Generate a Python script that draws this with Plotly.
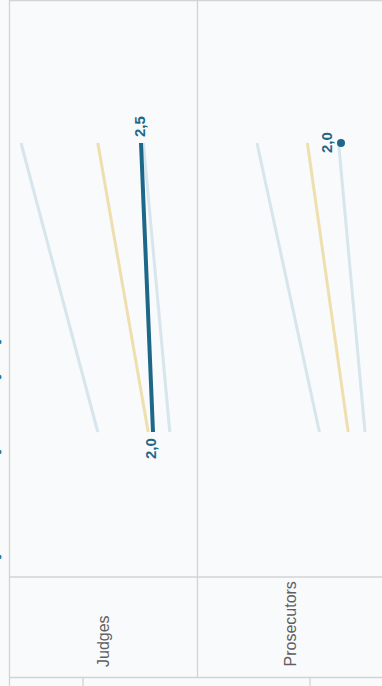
import plotly.graph_objects as go

# ---------------- data ----------------
categories = ["Judges", "Prosecutors"]
periods = [0, 1]  # first and second observation
grey_high = {"Judges": [4.3, 7.5], "Prosecutors": [2.9, 5.5]}
yellow_mid = {"Judges": [2.2, 4.3], "Prosecutors": [1.7, 3.4]}
grey_low = {"Judges": [1.3, 2.4], "Prosecutors": [1.0, 2.1]}
highlight = {"Judges": [2.0, 2.5], "Prosecutors": [None, 2.0]}
highlight_labels = {"Judges": ["2,0", "2,5"], "Prosecutors": [None, "2,0"]}

# ---------------- styling ----------------
W, H = 382, 686
BG = "#f9fafb"
BORDER = "#d3d3d3"
DARK = "#1d6788"
LIGHT = "#d7e5ec"
YELLOW = "#efdfae"
FONT = "Liberation Sans, Arial, sans-serif"

def px_x(p):
    return p / W

def px_y(p):
    return 1 - p / H

# panels in pixels
panels = [(10, 198), (198, 382)]
PX_PER_UNIT = 24.0
REF_OFFSET = 143  # pixel offset inside the panel where value 2.0 sits

def val_at(offset):
    return 2.0 + (REF_OFFSET - offset) / PX_PER_UNIT

fig = go.Figure()

for i, cat in enumerate(categories):
    xa = "x" if i == 0 else "x2"
    for series, col, wd in [(grey_high, LIGHT, 3), (yellow_mid, YELLOW, 3), (grey_low, LIGHT, 3)]:
        fig.add_trace(go.Scatter(x=series[cat], y=periods, mode="lines",
                                 line=dict(color=col, width=wd), xaxis=xa, yaxis="y",
                                 hoverinfo="skip", showlegend=False))
    hv = highlight[cat]
    pts = [(v, p) for v, p in zip(hv, periods) if v is not None]
    if len(pts) > 1:
        fig.add_trace(go.Scatter(x=[v for v, _ in pts], y=[p for _, p in pts], mode="lines",
                                 line=dict(color=DARK, width=4), xaxis=xa, yaxis="y",
                                 showlegend=False, hoverinfo="skip"))
    else:
        fig.add_trace(go.Scatter(x=[v for v, _ in pts], y=[p for _, p in pts], mode="markers",
                                 marker=dict(color=DARK, size=8), xaxis=xa, yaxis="y",
                                 showlegend=False, hoverinfo="skip"))

annotations = []
# value labels
label_shifts = {
    ("Judges", 0): (-3, -17),
    ("Judges", 1): (-2, 16),
    ("Prosecutors", 1): (-15, 0),
}
for i, cat in enumerate(categories):
    xr = "x" if i == 0 else "x2"
    for j, (v, t) in enumerate(zip(highlight[cat], highlight_labels[cat])):
        if v is None:
            continue
        dx, dy = label_shifts[(cat, j)]
        annotations.append(dict(x=v, y=periods[j], xref=xr, yref="y", text=f"<b>{t}</b>",
                                showarrow=False, textangle=-90, xshift=dx, yshift=dy,
                                font=dict(family=FONT, size=15, color=DARK)))

# category labels
cat_x = [103, 290]
for cx, cat in zip(cat_x, categories):
    annotations.append(dict(x=px_x(cx), y=px_y(669), xref="paper", yref="paper", text=cat,
                            showarrow=False, textangle=-90, xanchor="center", yanchor="bottom",
                            font=dict(family=FONT, size=16, color="#5f5f5f")))

shapes = []
def line(x0, y0, x1, y1, color=BORDER, w=1.3):
    shapes.append(dict(type="line", xref="paper", yref="paper",
                       x0=px_x(x0), y0=px_y(y0), x1=px_x(x1), y1=px_y(y1),
                       line=dict(color=color, width=w)))

line(9.5, 0.5, 382, 0.5)          # top
line(9.5, 0, 9.5, 686)            # left
line(197.5, 0, 197.5, 677)        # divider
line(9.5, 577, 382, 577)          # bottom of plot area
line(9.5, 677.5, 382, 677.5)      # bottom of label row
line(83, 677.5, 83, 686)
line(310, 677.5, 310, 686)

# partially visible markers at the left edge
for yy in [342, 377, 452, 557]:
    shapes.append(dict(type="circle", xref="paper", yref="paper",
                       x0=px_x(-4), x1=px_x(1.6), y0=px_y(yy - 2.5), y1=px_y(yy + 2.5),
                       fillcolor="#2a78a8", line=dict(width=0)))

# y axis: period 0 at px 432, period 1 at px 143
ppu = 432 - 143
y_top_px, y_bot_px = 0, 577
yrange = [(432 - y_bot_px) / ppu, (432 - y_top_px) / ppu]

axis_common = dict(showgrid=False, zeroline=False, showticklabels=False, showline=False, ticks="")
fig.update_layout(
    width=W, height=H,
    margin=dict(l=0, r=0, t=0, b=0),
    paper_bgcolor=BG, plot_bgcolor=BG,
    xaxis=dict(domain=[px_x(panels[0][0]), px_x(panels[0][1])],
               range=[val_at(0), val_at(panels[0][1] - panels[0][0])], anchor="y", **axis_common),
    xaxis2=dict(domain=[px_x(panels[1][0]), px_x(panels[1][1])],
                range=[val_at(0), val_at(panels[1][1] - panels[1][0])], anchor="y", **axis_common),
    yaxis=dict(domain=[px_y(577), 1], range=yrange, **axis_common),
    annotations=annotations, shapes=shapes, showlegend=False,
)

fig.write_html("out.html", config={"displayModeBar": False},
               post_script="document.body.style.margin='0';document.body.style.background='%s';" % BG)
